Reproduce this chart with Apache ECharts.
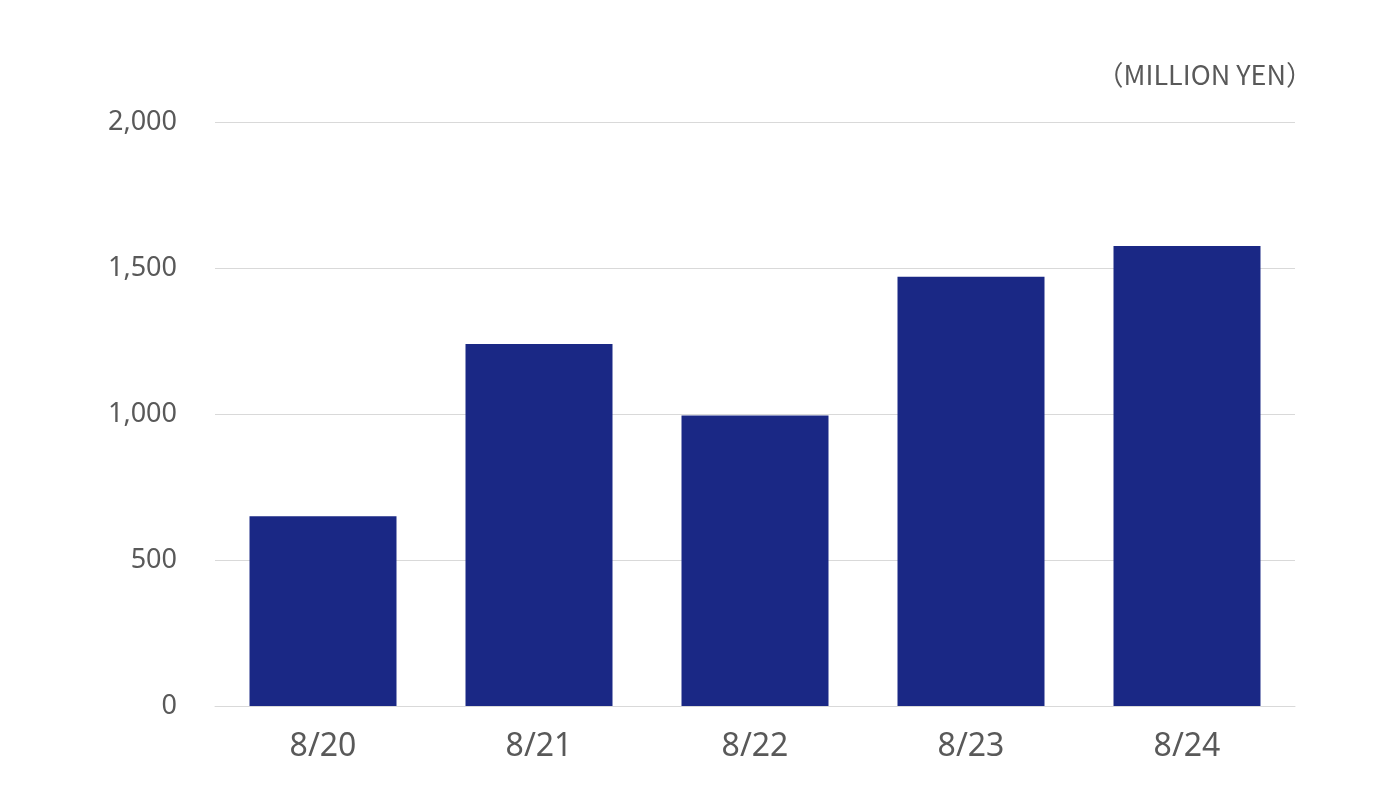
<!DOCTYPE html>
<html><head><meta charset="utf-8">
<script src="https://cdn.jsdelivr.net/npm/echarts@6/dist/echarts.min.js"></script>
<style>html,body{margin:0;padding:0;background:#fff}#c{width:1399px;height:794px}</style>
</head><body><div id="c"></div>
<script>
const categories = ['8/20', '8/21', '8/22', '8/23', '8/24'];
const values = [650, 1240, 995, 1470, 1575];
const unitLabel = '（MILLION YEN）';
const chart = echarts.init(document.getElementById('c'), null, {renderer: 'canvas'});
chart.setOption({
  animation: false,
  backgroundColor: '#fff',
  graphic: [{
    type: 'text', right: 86, top: 61,
    style: {text: unitLabel, fill: '#595959', font: '27px "Noto Sans CJK JP", "Noto Sans", sans-serif', textAlign: 'right'}
  }],
  grid: {left: 215, right: 104, top: 122, bottom: 88, containLabel: false},
  xAxis: {
    type: 'category', data: categories,
    axisLine: {show: true, lineStyle: {color: '#d9d9d9', width: 1}},
    axisTick: {show: false},
    axisLabel: {color: '#595959', fontSize: 32, margin: 25, fontFamily: '"Noto Sans", sans-serif'}
  },
  yAxis: {
    type: 'value', min: 0, max: 2000, interval: 500,
    axisLine: {show: false}, axisTick: {show: false},
    splitLine: {lineStyle: {color: '#d9d9d9', width: 1}},
    axisLabel: {color: '#595959', fontSize: 27, margin: 38, padding: [4, 0, 0, 0], fontFamily: '"Noto Sans", sans-serif',
      formatter: v => v.toLocaleString('en-US')}
  },
  series: [{
    type: 'bar', data: values, barWidth: 147,
    itemStyle: {color: '#1a2885'}
  }]
});
</script></body></html>
